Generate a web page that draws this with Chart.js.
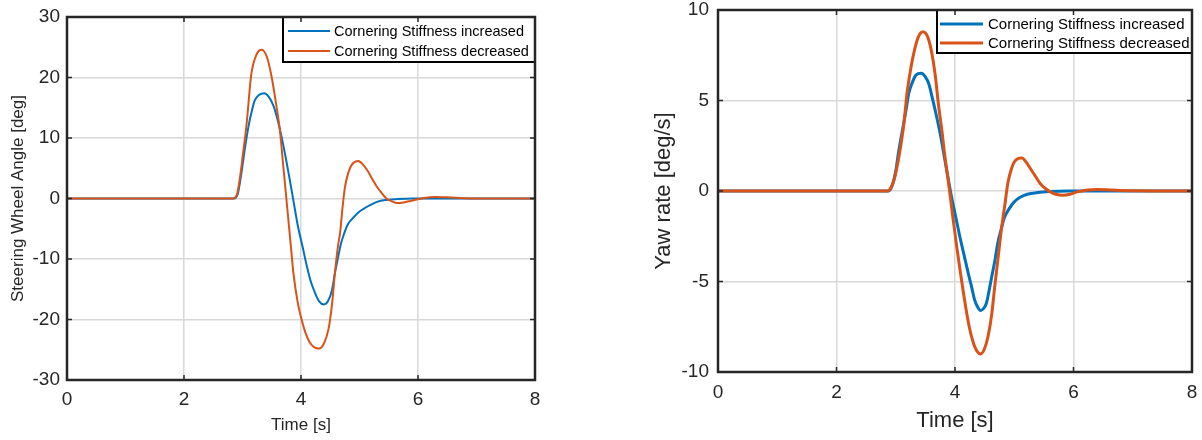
<!DOCTYPE html>
<html>
<head>
<meta charset="utf-8">
<script src="https://cdn.jsdelivr.net/npm/chart.js@4"></script>
<style>
  html, body { margin: 0; padding: 0; background: #fff; overflow: hidden; }
  #wrap { position: relative; width: 1202px; height: 440px; overflow: hidden; }
  canvas { position: absolute; }
</style>
</head>
<body>
<div id="wrap">
  <canvas id="steerChart" width="600" height="440" style="left:0;top:0"></canvas>
  <canvas id="yawChart" width="620" height="450" style="left:600px;top:-10px"></canvas>
</div>
<script>
// Labels
const seriesLabels = ["Cornering Stiffness increased", "Cornering Stiffness decreased"];
const xTitle = "Time [s]";
const steerTitle = "Steering Wheel Angle [deg]";
const yawTitle = "Yaw rate [deg/s]";

// Steering wheel angle, stiffness increased
const steerIncT = [0, 2.85, 2.92, 2.98, 3.04, 3.10, 3.16, 3.21, 3.28, 3.37, 3.45, 3.53, 3.60, 3.67, 3.74, 3.81, 3.88, 3.95, 4.03, 4.10, 4.17, 4.24, 4.31, 4.39, 4.46, 4.53, 4.58, 4.63, 4.68, 4.73, 4.80, 4.89, 4.98, 5.07, 5.18, 5.30, 5.45, 5.64, 5.90, 8];
const steerIncV = [0, 0, 0.8, 4.1, 8.2, 11.8, 14.5, 16.2, 17.1, 17.4, 16.8, 15.3, 13.0, 10.1, 6.7, 3.0, -0.9, -4.7, -8.1, -11.2, -13.8, -15.6, -17.0, -17.5, -17.0, -15.1, -12.3, -9.9, -7.6, -6.0, -4.3, -3.2, -2.3, -1.7, -1.1, -0.55, -0.25, -0.1, 0, 0];

// Steering wheel angle, stiffness decreased
const steerDecT = [0, 2.84, 2.90, 2.95, 3.01, 3.07, 3.15, 3.24, 3.33, 3.42, 3.50, 3.57, 3.64, 3.69, 3.73, 3.78, 3.83, 3.87, 3.94, 4.01, 4.08, 4.15, 4.23, 4.31, 4.39, 4.47, 4.53, 4.58, 4.63, 4.67, 4.71, 4.75, 4.81, 4.87, 4.98, 5.06, 5.13, 5.22, 5.30, 5.38, 5.45, 5.56, 5.65, 5.75, 5.87, 5.98, 6.10, 6.30, 6.50, 6.80, 7.20, 8];
const steerDecV = [0, 0, 0.5, 3.0, 7.5, 12.3, 20.5, 23.8, 24.6, 23.3, 20.0, 15.9, 11.2, 6.1, 2.0, -3.1, -8.2, -12.3, -17.0, -20.0, -22.3, -23.8, -24.6, -24.8, -24.0, -21.6, -17.5, -12.3, -8.0, -5.5, -1.5, 1.8, 4.3, 5.6, 6.2, 5.6, 4.7, 3.2, 1.9, 0.9, 0.1, -0.5, -0.75, -0.65, -0.4, -0.15, 0.1, 0.25, 0.2, 0.05, 0, 0];

// Yaw rate, stiffness increased
const yawIncT = [0, 2.88, 2.94, 3.00, 3.05, 3.11, 3.17, 3.22, 3.28, 3.34, 3.43, 3.50, 3.56, 3.62, 3.69, 3.76, 3.83, 3.89, 3.94, 4.01, 4.08, 4.15, 4.22, 4.28, 4.33, 4.38, 4.43, 4.48, 4.53, 4.57, 4.61, 4.67, 4.72, 4.78, 4.83, 4.91, 5.00, 5.10, 5.22, 5.40, 5.60, 5.90, 8];
const yawIncV = [0, 0, 0.3, 1.1, 2.2, 3.3, 4.4, 5.4, 6.0, 6.4, 6.5, 6.3, 5.9, 5.1, 4.1, 3.0, 1.7, 0.6, -0.3, -1.4, -2.5, -3.5, -4.5, -5.3, -6.0, -6.4, -6.6, -6.5, -6.2, -5.6, -4.9, -3.9, -2.9, -2.1, -1.5, -1.0, -0.6, -0.35, -0.18, -0.08, -0.03, 0, 0];

// Yaw rate, stiffness decreased
const yawDecT = [0, 2.86, 2.92, 2.97, 3.02, 3.08, 3.14, 3.19, 3.25, 3.31, 3.38, 3.46, 3.54, 3.61, 3.67, 3.72, 3.78, 3.83, 3.88, 3.92, 3.97, 4.03, 4.10, 4.17, 4.24, 4.31, 4.37, 4.43, 4.50, 4.56, 4.62, 4.67, 4.72, 4.78, 4.84, 4.89, 4.95, 5.00, 5.07, 5.13, 5.20, 5.28, 5.36, 5.44, 5.52, 5.61, 5.70, 5.82, 5.94, 6.06, 6.40, 6.80, 8];
const yawDecV = [0, 0, 0.2, 0.6, 1.3, 2.4, 3.8, 5.4, 6.7, 7.7, 8.5, 8.8, 8.5, 7.6, 6.3, 4.8, 3.3, 1.9, 0.7, -0.3, -1.6, -3.1, -4.7, -6.2, -7.5, -8.4, -8.85, -9.0, -8.7, -8.0, -6.8, -5.3, -3.9, -2.2, -0.8, 0.4, 1.2, 1.6, 1.8, 1.83, 1.6, 1.2, 0.8, 0.4, 0.15, -0.05, -0.18, -0.24, -0.18, -0.05, 0.08, 0.03, 0];

const BLUE = "#0072BD";
const ORANGE = "#D95319";
const AXIS = "#262626";
const GRID = "#d8d8d8";
const FONT = "'Liberation Sans', Arial, sans-serif";

const toPoints = (ts, vs) => ts.map((t, i) => ({ x: t, y: vs[i] }));

// MATLAB-like box: inward ticks on all sides, frame and legend inside the axes
const matlabBox = {
    id: "matlabBox",
    afterDatasetsDraw(chart, args, opts) {
        const { ctx, chartArea: a, scales } = chart;
        ctx.save();

        // legend
        const lg = opts.legend;
        ctx.fillStyle = "#fff";
        ctx.fillRect(lg.left, a.top, a.right - lg.left, lg.bottom - a.top);
        ctx.strokeStyle = "#000";
        ctx.lineWidth = 2;
        ctx.strokeRect(lg.left, a.top, a.right - lg.left, lg.bottom - a.top);
        ctx.font = lg.fontSize + "px " + FONT;
        ctx.textBaseline = "middle";
        ctx.textAlign = "left";
        chart.data.datasets.forEach((ds, i) => {
            const y = lg.rows[i];
            ctx.strokeStyle = ds.borderColor;
            ctx.lineWidth = ds.borderWidth;
            ctx.beginPath();
            ctx.moveTo(lg.sample[0], y);
            ctx.lineTo(lg.sample[1], y);
            ctx.stroke();
            ctx.fillStyle = "#000";
            ctx.fillText(ds.label, lg.textX, y + 1);
        });

        // inward ticks
        ctx.strokeStyle = AXIS;
        ctx.lineWidth = 1.5;
        ctx.beginPath();
        scales.x.ticks.forEach((t) => {
            const px = scales.x.getPixelForValue(t.value);
            ctx.moveTo(px, a.bottom);
            ctx.lineTo(px, a.bottom - opts.tickLen);
            ctx.moveTo(px, a.top);
            ctx.lineTo(px, a.top + opts.tickLen);
        });
        scales.y.ticks.forEach((t) => {
            const py = scales.y.getPixelForValue(t.value);
            ctx.moveTo(a.left, py);
            ctx.lineTo(a.left + opts.tickLen, py);
            ctx.moveTo(a.right, py);
            ctx.lineTo(a.right - opts.tickLen, py);
        });
        ctx.stroke();

        // frame
        ctx.lineWidth = opts.frameWidth;
        ctx.strokeRect(a.left, a.top, a.right - a.left, a.bottom - a.top);
        ctx.restore();
    },
};

function makeChart(id, cfg) {
    const ctx = document.getElementById(id).getContext("2d");
    return new Chart(ctx, {
        type: "line",
        data: {
            datasets: [
                {
                    label: seriesLabels[0],
                    data: toPoints(cfg.incT, cfg.incV),
                    borderColor: BLUE,
                    borderWidth: cfg.lineWidth,
                    order: 2,
                },
                {
                    label: seriesLabels[1],
                    data: toPoints(cfg.decT, cfg.decV),
                    borderColor: ORANGE,
                    borderWidth: cfg.lineWidth,
                    order: 1,
                },
            ],
        },
        options: {
            responsive: false,
            animation: false,
            devicePixelRatio: 1,
            elements: {
                point: { radius: 0 },
                line: { tension: 0.4, cubicInterpolationMode: "monotone", fill: false },
            },
            layout: { padding: cfg.padding },
            scales: {
                x: {
                    type: "linear",
                    min: 0,
                    max: 8,
                    afterFit: (s) => { s.height = cfg.xHeight; },
                    ticks: {
                        stepSize: 2,
                        padding: cfg.xTickPad,
                        color: AXIS,
                        font: { family: FONT, size: cfg.tickSize, lineHeight: 1 },
                        maxRotation: 0,
                    },
                    grid: { color: GRID, lineWidth: 1.5, drawTicks: false },
                    border: { display: false },
                    title: {
                        display: true,
                        text: xTitle,
                        color: AXIS,
                        font: { family: FONT, size: cfg.titleSize },
                        padding: { top: 0, bottom: cfg.xTitlePad },
                    },
                },
                y: {
                    min: cfg.yMin,
                    max: cfg.yMax,
                    afterFit: (s) => { s.width = cfg.yWidth; },
                    ticks: {
                        stepSize: cfg.yStep,
                        padding: cfg.yTickPad,
                        color: AXIS,
                        font: { family: FONT, size: cfg.tickSize, lineHeight: 1 },
                    },
                    grid: { color: GRID, lineWidth: 1.5, drawTicks: false },
                    border: { display: false },
                    title: {
                        display: true,
                        text: cfg.yTitle,
                        color: AXIS,
                        font: { family: FONT, size: cfg.titleSize },
                        padding: { top: cfg.yTitlePad, bottom: 0 },
                    },
                },
            },
            plugins: {
                legend: { display: false },
                tooltip: { enabled: false },
                matlabBox: {
                    tickLen: 5,
                    frameWidth: 2.5,
                    legend: cfg.legend,
                },
            },
        },
        plugins: [matlabBox],
    });
}

makeChart("steerChart", {
    incT: steerIncT, incV: steerIncV, decT: steerDecT, decV: steerDecV,
    lineWidth: 2,
    yMin: -30, yMax: 30, yStep: 10,
    yTitle: steerTitle,
    padding: { left: 0, top: 17, right: 65, bottom: 0 },
    xHeight: 60, yWidth: 67,
    tickSize: 19, titleSize: 17,
    xTickPad: 10, yTickPad: 7,
    xTitlePad: 4, yTitlePad: 8,
    legend: { left: 283, bottom: 62, rows: [31, 51], sample: [288, 330], textX: 334, fontSize: 14.5 },
});

makeChart("yawChart", {
    incT: yawIncT, incV: yawIncV, decT: yawDecT, decV: yawDecV,
    lineWidth: 3,
    yMin: -10, yMax: 10, yStep: 5,
    yTitle: yawTitle,
    padding: { left: 0, top: 20, right: 28, bottom: 0 },
    xHeight: 68, yWidth: 118,
    tickSize: 19, titleSize: 22,
    xTickPad: 11, yTickPad: 9,
    xTitlePad: 6, yTitlePad: 51,
    legend: { left: 337, bottom: 63, rows: [34, 53], sample: [340, 383], textX: 388, fontSize: 15 },
});
</script>
</body>
</html>
